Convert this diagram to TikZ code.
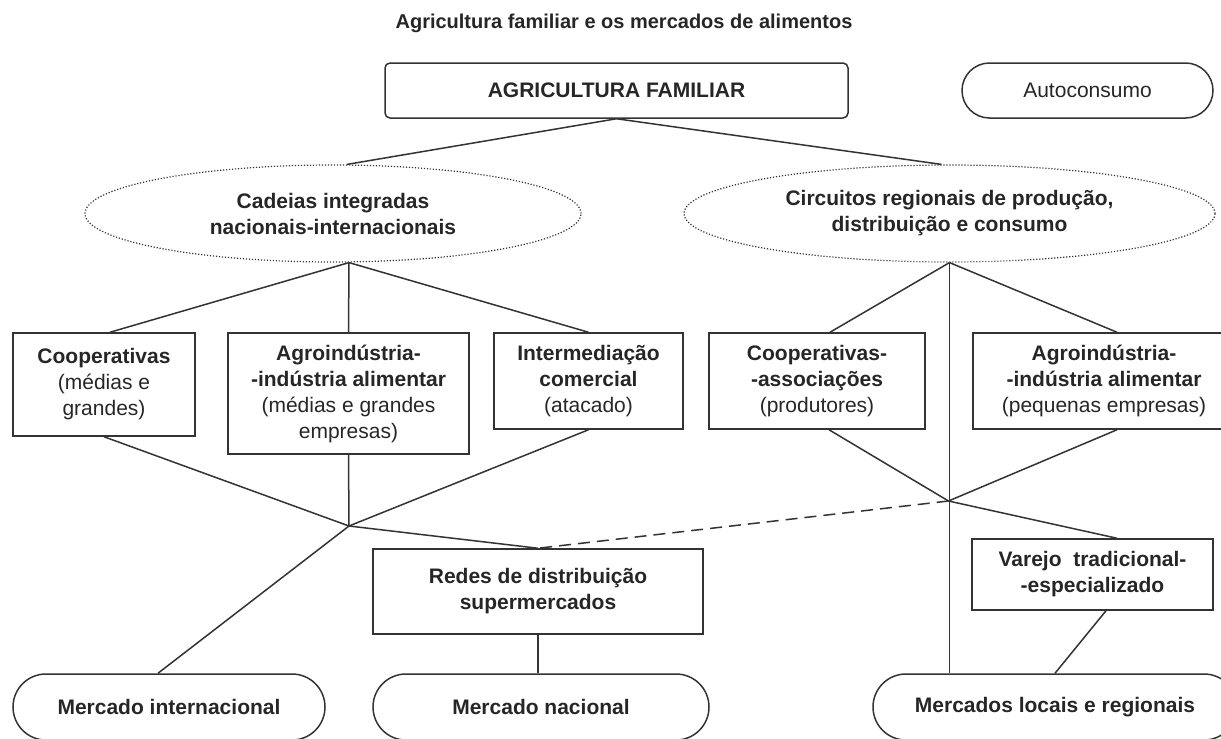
\documentclass[tikz,border=0pt]{standalone}
\usepackage{fontspec}
\setmainfont{Liberation Sans}
\usetikzlibrary{shapes,positioning,calc}

\begin{document}
\begin{tikzpicture}[
    x=0.5pt, y=-0.5pt,
    every node/.style={font=\fontsize{10.5}{13}\selectfont, text=black!85},
    boldtext/.style={font=\fontsize{10.5}{13}\selectfont\bfseries},
    box/.style={rectangle, draw=black!80, line width=0.75pt, align=center, inner sep=1pt},
    rbox/.style={box, rounded corners=2.5pt},
    oval/.style={ellipse, draw=black!80, dash pattern=on 0.6pt off 0.9pt, line width=0.6pt, align=center, inner sep=0pt, minimum height=48.5pt},
    term/.style={box, rounded corners=16.5pt, minimum height=33pt},
    link/.style={draw=black!80, line width=0.75pt},
    dashlink/.style={link, dash pattern=on 6pt off 3.5pt}
]
    \useasboundingbox (0,0) rectangle (1221,739);

    % Title
    \node[font=\fontsize{10}{12}\selectfont\bfseries] (title) at (624,23) {Agricultura familiar e os mercados de alimentos};

    % Top level
    \node[rbox, boldtext, minimum width=231.5pt, minimum height=27.5pt] (agri) at (616.5,90.5) {AGRICULTURA FAMILIAR};
    \node[term, minimum width=125.5pt, minimum height=27.5pt, rounded corners=13.75pt] (auto) at (1087.5,90.5) {Autoconsumo};

    % Circuits
    \node[oval, boldtext, minimum width=248pt] (cadeias) at (333,213.5) {Cadeias integradas\\nacionais-internacionais};
    \node[oval, boldtext, minimum width=265.5pt] (circuitos) at (949.5,213.5) {Circuitos regionais de produção,\\distribuição e consumo};

    % Agents
    \node[box, minimum width=91pt, minimum height=51.5pt] (coop) at (104,384.5) {\textbf{Cooperativas}\\(médias e\\grandes)};
    \node[box, minimum width=120.5pt, minimum height=60.5pt] (agro) at (348.5,393.5) {\textbf{Agroindústria-}\\\textbf{-indústria alimentar}\\(médias e grandes\\empresas)};
    \node[box, minimum width=94.5pt, minimum height=48pt] (inter) at (588.5,381) {\textbf{Intermediação}\\\textbf{comercial}\\(atacado)};
    \node[box, minimum width=108pt, minimum height=48pt] (assoc) at (817,381) {\textbf{Cooperativas-}\\\textbf{-associações}\\(produtores)};
    \node[box, minimum width=131pt, minimum height=48pt] (agropeq) at (1104,381) {\textbf{Agroindústria-}\\\textbf{-indústria alimentar}\\(pequenas empresas)};

    % Distribution
    \node[box, boldtext, minimum width=165pt, minimum height=42.5pt] (redes) at (538,591.5) {Redes de distribuição\\supermercados};
    \node[box, boldtext, minimum width=120.5pt, minimum height=35.5pt] (varejo) at (1092.5,574.5) {Varejo\ \ tradicional-\\-especializado};

    % Markets
    \node[term, boldtext, minimum width=156pt] (mint) at (169,707) {Mercado internacional};
    \node[term, boldtext, minimum width=168pt] (mnac) at (541,707) {Mercado nacional};
    \node[term, boldtext, minimum width=182pt] (mloc) at (1055,707) {Mercados locais e regionais};

    % Junctions
    \coordinate (jl) at (349,526);
    \coordinate (jr) at (948.5,501);

    % Lines
    \draw[link] (agri.south) -- ([xshift=7pt]cadeias.north);
    \draw[link] (agri.south) -- ([xshift=-4pt]circuitos.north);

    \draw[link] ([xshift=8pt]cadeias.south) -- ([xshift=3pt]coop.north);
    \draw[link] ([xshift=8pt]cadeias.south) -- (agro.north);
    \draw[link] ([xshift=8pt]cadeias.south) -- (inter.north);

    \draw[link] (circuitos.south) -- ([xshift=6.5pt]assoc.north);
    \draw[link] (circuitos.south) -- ([xshift=6.5pt]agropeq.north);
    \draw[link] (circuitos.south) -- (circuitos.south |- mloc.north);

    \draw[link] (coop.south) -- (jl);
    \draw[link] (agro.south) -- (jl);
    \draw[link] (inter.south) -- (jl);
    \draw[link] (jl) -- ([xshift=-5.5pt]mint.north);
    \draw[link] (jl) -- (redes.north);
    \draw[link] (redes.south) -- (redes.south |- mnac.north);

    \draw[link] ([xshift=6pt]assoc.south) -- (jr);
    \draw[link] ([xshift=6.5pt]agropeq.south) -- (jr);
    \draw[link] (jr) -- ([xshift=12.25pt]varejo.north);
    \draw[dashlink] (jr) -- (redes.north);
    \draw[link] ([xshift=6.75pt]varejo.south) -- (mloc.north);

\end{tikzpicture}
\end{document}
